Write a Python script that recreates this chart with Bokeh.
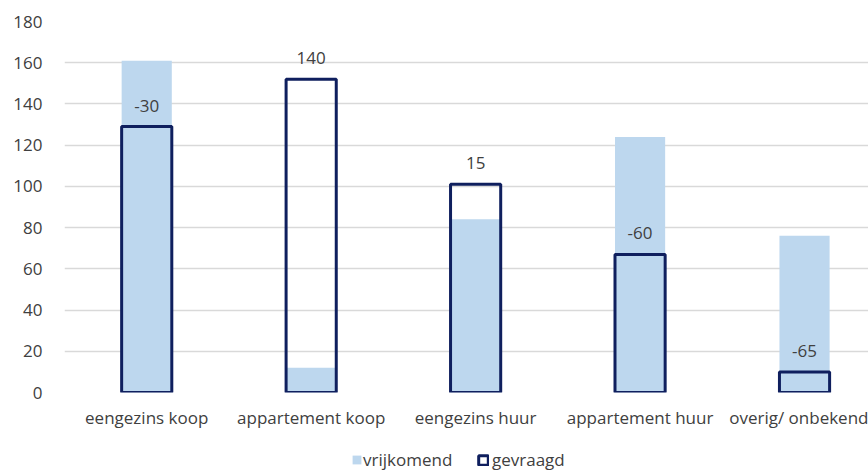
import numpy as np
from bokeh.plotting import figure
from bokeh.layouts import column
from bokeh.core.properties import value
from bokeh.models import ColumnDataSource, FixedTicker, Legend, LegendItem, Range1d
from bokeh.embed import file_html
from bokeh.resources import INLINE

# Woningtypen en aantallen
categories = ["eengezins koop", "appartement koop", "eengezins huur",
              "appartement huur", "overig/ onbekend"]
vrijkomend = [161, 12, 84, 124, 76]
gevraagd = [129, 152, 101, 67, 10]
verschil_labels = ["-30", "140", "15", "-60", "-65"]
y_ticks = [0, 20, 40, 60, 80, 100, 120, 140, 160, 180]

FONT = "Open Sans"
FONT_SIZE = "17px"
TEXT_COLOR = "#404040"
LIGHT = "#BDD7EE"
NAVY = "#0F1F5E"

x = np.arange(len(categories)) + 0.5

src = ColumnDataSource(dict(
    x=x, vrij=vrijkomend, gevr=gevraagd, lab=verschil_labels,
))

p = figure(width=868, height=438, output_backend="svg", toolbar_location=None,
           x_range=Range1d(0, 4.889), y_range=Range1d(0, 180),
           min_border_left=64, min_border_right=0, min_border_top=21,
           min_border_bottom=46)
p.outline_line_color = None
p.background_fill_color = "white"
p.border_fill_color = "white"

p.vbar(x="x", top="vrij", bottom=0, width=0.305, source=src,
       fill_color=LIGHT, line_color=None)
p.vbar(x="x", top="gevr", bottom=0, width=0.305, source=src,
       fill_color=None, line_color=NAVY, line_width=3)

p.text(x="x", y="gevr", text="lab", source=src, y_offset=-21,
       text_align="center", text_baseline="middle",
       text_font=value(FONT), text_font_size=FONT_SIZE, text_color=TEXT_COLOR)

# Y axis
p.yaxis.ticker = FixedTicker(ticks=y_ticks)
p.yaxis.axis_line_color = None
p.yaxis.major_tick_line_color = None
p.yaxis.minor_tick_line_color = None
p.yaxis.major_label_standoff = 16
p.yaxis.major_label_text_font = FONT
p.yaxis.major_label_text_font_size = FONT_SIZE
p.yaxis.major_label_text_color = TEXT_COLOR

# X axis with category names
p.xaxis.ticker = FixedTicker(ticks=list(x))
p.xaxis.major_label_overrides = {float(v): c for v, c in zip(x, categories)}
p.xaxis.axis_line_color = None
p.xaxis.major_tick_line_color = None
p.xaxis.minor_tick_line_color = None
p.xaxis.major_label_standoff = 7
p.xaxis.major_label_text_font = FONT
p.xaxis.major_label_text_font_size = FONT_SIZE
p.xaxis.major_label_text_color = TEXT_COLOR

p.xgrid.grid_line_color = None
p.ygrid.grid_line_color = "#D9D9D9"
p.ygrid.grid_line_width = 1.5

# Legend strip under the chart; the key renderers are hidden, only their
# legend swatches are shown
leg = figure(width=868, height=32, output_backend="svg", toolbar_location=None,
             x_range=Range1d(0, 5), y_range=Range1d(0, 200),
             x_axis_type=None, y_axis_type=None, min_border=0)
leg.outline_line_color = None
leg.xgrid.grid_line_color = None
leg.ygrid.grid_line_color = None
key_vrij = leg.vbar(x="x", top="vrij", width=0.305, source=src,
                    fill_color=LIGHT, line_color=None, visible=False)
key_gevr = leg.vbar(x="x", top="gevr", width=0.305, source=src,
                    fill_color=None, line_color=NAVY, line_width=3,
                    visible=False)

def make_legend(label, renderer, loc, size, standoff):
    return Legend(items=[LegendItem(label=label, renderers=[renderer], index=0)],
                  location=loc, orientation="horizontal",
                  glyph_width=size, glyph_height=size, label_standoff=standoff,
                  padding=0, margin=0, spacing=0, label_height=16,
                  border_line_color=None, background_fill_alpha=0,
                  inactive_fill_alpha=0,
                  label_text_font=FONT, label_text_font_size=FONT_SIZE,
                  label_text_color=TEXT_COLOR)

leg.add_layout(make_legend("vrijkomend", key_vrij, (287, -1), 11, 1))
leg.add_layout(make_legend("gevraagd", key_gevr, (413, -1), 12, 3))

layout = column(p, leg, spacing=0)
open("out.html", "w").write(file_html(layout, INLINE))
